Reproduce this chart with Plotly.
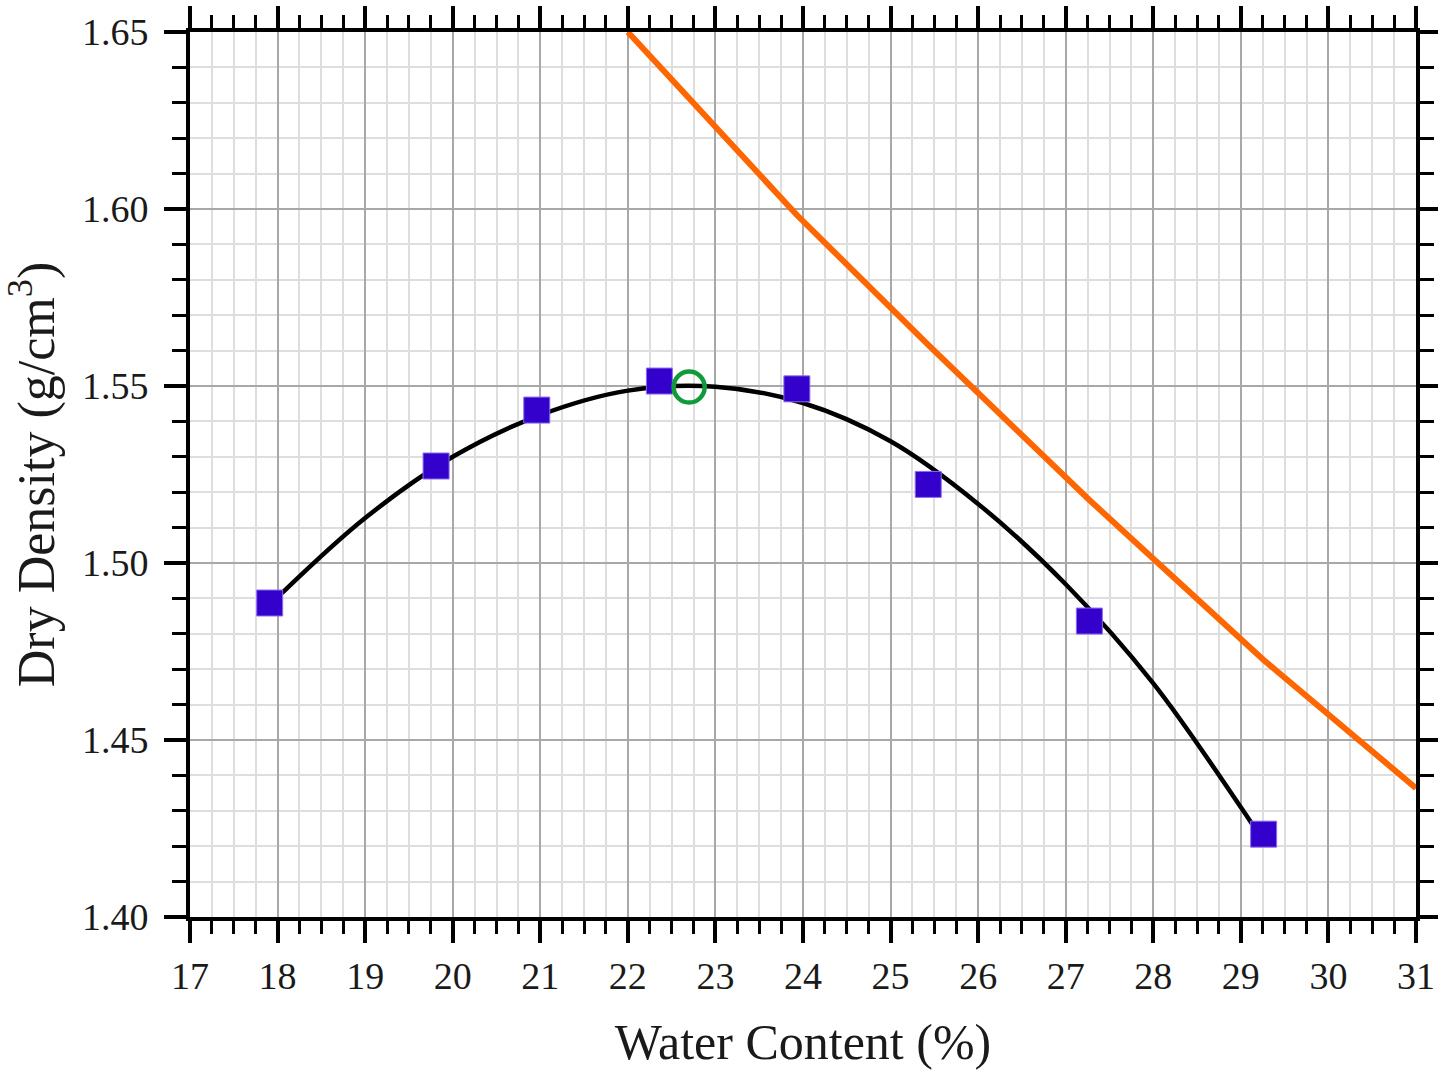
import plotly.graph_objects as go

# Compaction test results: water content (%) vs dry density (g/cm3)
water_content = [17.91, 19.81, 20.96, 22.36, 23.93, 25.43, 27.27, 29.26]
dry_density = [1.4887, 1.5274, 1.5432, 1.5514, 1.5492, 1.5222, 1.4836, 1.4234]

# Fitted compaction curve
fit_w = [18.05, 19.0, 20.0, 21.0, 22.0, 23.0, 24.0, 25.0, 26.0, 27.0, 28.0, 29.0, 29.13]
fit_rho = [1.4915, 1.5127, 1.5300, 1.5418, 1.5487, 1.5498, 1.5452, 1.5344, 1.5167,
           1.4940, 1.4660, 1.4310, 1.4262]

# Zero-air-voids line
zav_w = [22.0, 23.93, 25.43, 27.27, 29.26, 31.0]
zav_rho = [1.650, 1.5983, 1.5616, 1.5178, 1.4726, 1.4364]

# Optimum point (OMC, MDD)
opt_w = [22.70]
opt_rho = [1.5497]

x_ticks = list(range(17, 32))
y_ticks = [1.40, 1.45, 1.50, 1.55, 1.60, 1.65]

FONT = "Liberation Serif"

fig = go.Figure()

fig.add_trace(go.Scatter(x=zav_w, y=zav_rho, mode="lines",
                         line=dict(color="#ff6600", width=6), hoverinfo="skip"))
fig.add_trace(go.Scatter(x=fit_w, y=fit_rho, mode="lines",
                         line=dict(color="black", width=4.5, shape="spline", smoothing=1.0),
                         hoverinfo="skip"))
fig.add_trace(go.Scatter(x=water_content, y=dry_density, mode="markers",
                         marker=dict(symbol="square", size=26, color="#3300cc",
                                     line=dict(color="#8a6cf0", width=1))))
fig.add_trace(go.Scatter(x=opt_w, y=opt_rho, mode="markers",
                         marker=dict(symbol="circle-open", size=31, color="#119a3a",
                                     line=dict(color="#119a3a", width=4.5))))

axis_common = dict(
    showline=True, linecolor="black", linewidth=4, mirror="allticks",
    ticks="outside", tickcolor="black", tickwidth=4, ticklen=22,
    showgrid=True, gridcolor="#a8a8a8", gridwidth=2,
    zeroline=False, automargin=False,
    tickfont=dict(family=FONT, size=38, color="#1a1a1a"),
)

fig.update_xaxes(
    **axis_common,
    range=[17, 31], tickvals=x_ticks,
    minor=dict(dtick=0.25, ticks="outside", ticklen=13, tickwidth=3, tickcolor="black",
               showgrid=True, gridcolor="#dedede", gridwidth=2),
    title=dict(text="Water Content (%)", font=dict(family=FONT, size=50, color="#1a1a1a"),
               standoff=30),
)
fig.update_yaxes(
    **axis_common,
    range=[1.40, 1.65], tickvals=y_ticks, tickformat=".2f", ticklabelstandoff=8,
    minor=dict(dtick=0.01, ticks="outside", ticklen=14, tickwidth=3, tickcolor="black",
               showgrid=True, gridcolor="#dedede", gridwidth=2),
    title=dict(text="Dry Density (g/cm<sup>3</sup>)",
               font=dict(family=FONT, size=52, color="#1a1a1a"), standoff=12),
)

fig.update_layout(
    width=1438, height=1070,
    margin=dict(l=190, r=22, t=32, b=153),
    plot_bgcolor="white", paper_bgcolor="white",
    showlegend=False,
)

fig.write_html("out.html")
